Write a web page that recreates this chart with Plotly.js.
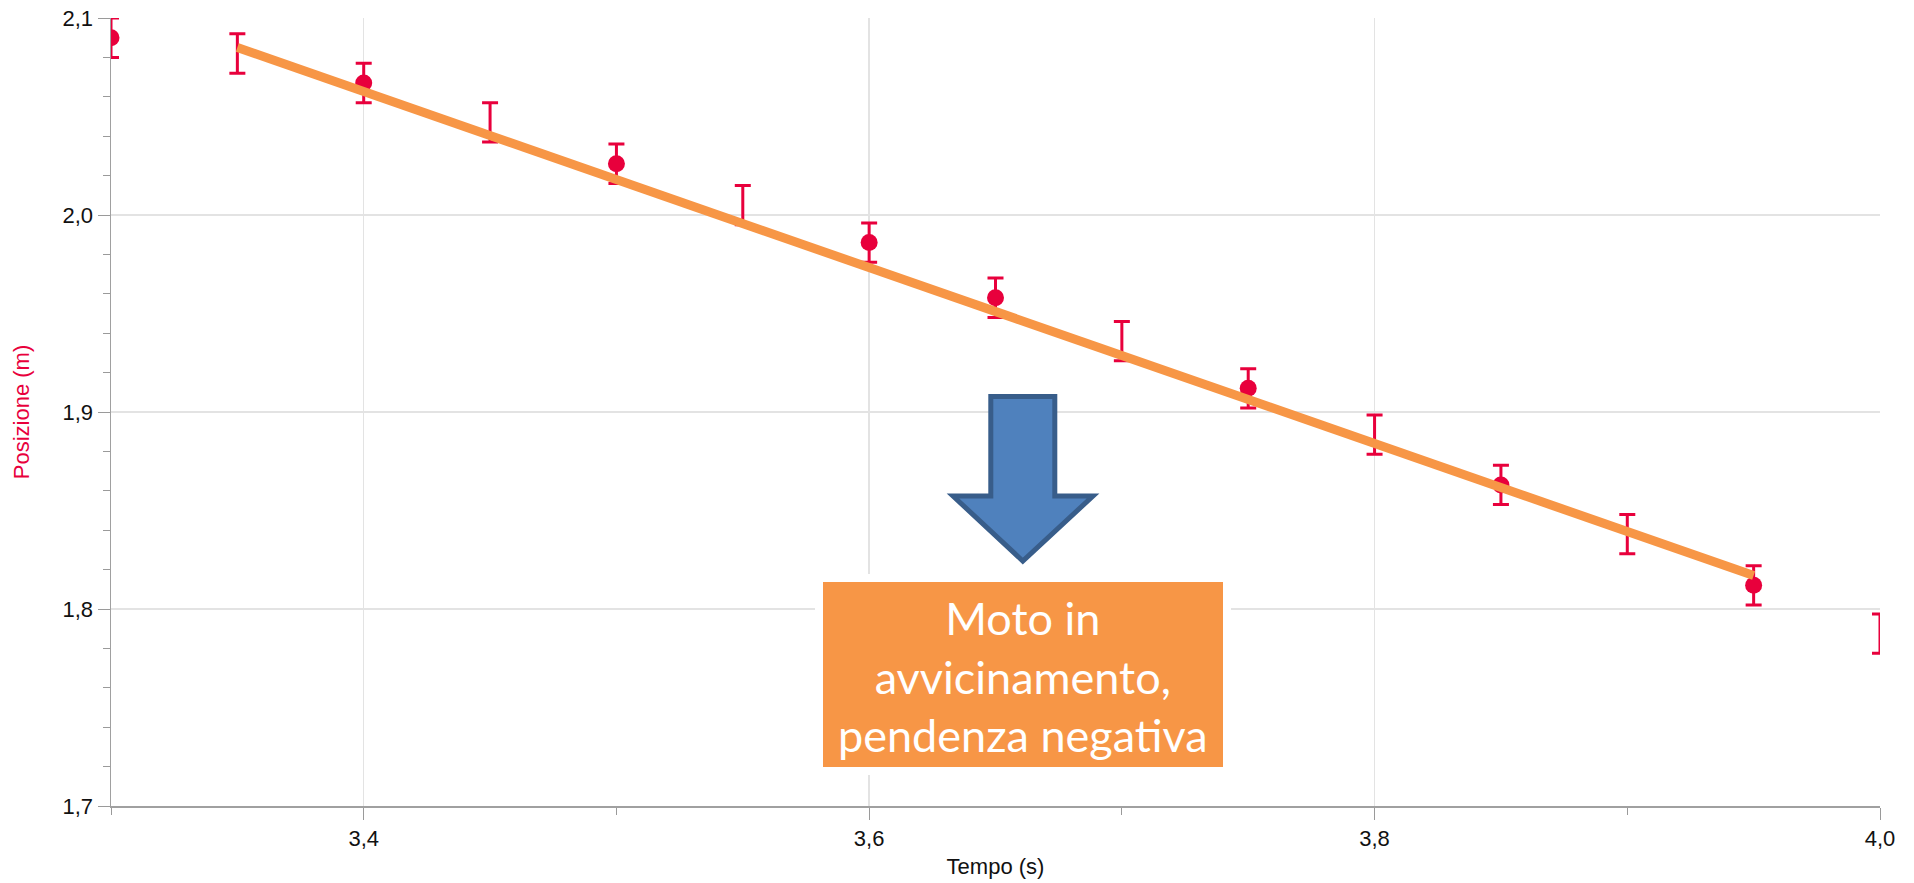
<!DOCTYPE html>
<html>
<head>
<meta charset="utf-8">
<script src="https://cdn.plot.ly/plotly-3.0.1.min.js"></script>
<style>
  html, body { margin: 0; padding: 0; background: #ffffff; }
  #chart { width: 1914px; height: 883px; }
</style>
</head>
<body>
<div id="chart"></div>
<script>
// Measured position of the cart over time (s, m) with its uncertainty
const tempo = [3.30, 3.35, 3.40, 3.45, 3.50, 3.55, 3.60, 3.65, 3.70, 3.75, 3.80, 3.85, 3.90, 3.95, 4.00];
const posizione = [2.090, 2.082, 2.067, 2.047, 2.026, 2.005, 1.986, 1.958, 1.936, 1.912, 1.8885, 1.863, 1.838, 1.812, 1.7875];
const incertezza = [0.01, 0.01, 0.01, 0.01, 0.01, 0.01, 0.01, 0.01, 0.01, 0.01, 0.01, 0.01, 0.01, 0.01, 0.01];
// Samples that are shown with a dot (the others only show their error bar)
const conPunto = [true, false, true, false, true, false, true, true, false, true, false, true, false, true, false];

// Linear fit drawn over the selected interval
const fitTempo = [3.35, 3.95];
const fitPosizione = [2.085, 1.817];

const noteText = 'Moto in<br>avvicinamento,<br>pendenza negativa';

const RED = '#e8003c';
const ORANGE = '#f79646';

function pick(arr, flag) {
  return arr.filter((_, i) => conPunto[i] === flag);
}

// Plot area geometry (pixels) used to place the callout shapes
const W = 1914, H = 883;
const M = { l: 111, r: 34, t: 18, b: 77 };
const PW = W - M.l - M.r, PH = H - M.t - M.b;
const fx = x => (x - M.l) / PW;
const fy = y => 1 - (y - M.t) / PH;

function pathFrom(points) {
  return 'M ' + points.map(p => fx(p[0]).toFixed(5) + ' ' + fy(p[1]).toFixed(5)).join(' L ') + ' Z';
}

const errStyle = { thickness: 3, width: 8, color: RED };

const traces = [
  {
    x: pick(tempo, false), y: pick(posizione, false),
    type: 'scatter', mode: 'markers',
    marker: { size: 17, color: RED, opacity: 0 },
    error_y: Object.assign({ type: 'data', array: pick(incertezza, false), visible: true }, errStyle),
    hoverinfo: 'x+y', showlegend: false
  },
  {
    x: pick(tempo, true), y: pick(posizione, true),
    type: 'scatter', mode: 'markers',
    marker: { size: 17, color: RED },
    error_y: Object.assign({ type: 'data', array: pick(incertezza, true), visible: true }, errStyle),
    hoverinfo: 'x+y', showlegend: false
  },
  {
    x: fitTempo, y: fitPosizione,
    type: 'scatter', mode: 'lines',
    line: { color: ORANGE, width: 9 },
    hoverinfo: 'skip', showlegend: false
  }
];

// Callout: box and downward block arrow
const box = { x0: 823, x1: 1223, y0: 582, y1: 767 };
const pad = 8;
const arrow = [
  [990.8, 396.5], [1054.8, 396.5], [1054.8, 496], [1093, 496],
  [1022.8, 561], [953, 496], [990.8, 496]
];

const axisFont = { family: 'Liberation Sans, Arial, sans-serif', size: 22, color: '#111111' };

const layout = {
  width: W, height: H,
  margin: M,
  paper_bgcolor: '#ffffff',
  plot_bgcolor: '#ffffff',
  separators: ',.',
  showlegend: false,
  xaxis: {
    range: [3.3, 4.0],
    tick0: 0, dtick: 0.2,
    tickformat: '.1f',
    ticks: 'outside', ticklen: 12, tickwidth: 1, tickcolor: '#9a9a9a',
    showline: true, linecolor: '#a0a0a0', linewidth: 1.5,
    showgrid: true, gridcolor: '#e3e3e3', gridwidth: 1.5,
    zeroline: false,
    tickfont: axisFont,
    minor: { dtick: 0.1, tick0: 0, ticks: 'outside', ticklen: 7, tickcolor: '#9a9a9a', showgrid: false },
    title: { text: 'Tempo (s)', font: axisFont, standoff: 8 }
  },
  yaxis: {
    range: [1.7, 2.1],
    tick0: 0, dtick: 0.1,
    tickformat: '.1f',
    ticks: 'outside', ticklen: 12, tickwidth: 1, tickcolor: '#9a9a9a',
    showline: true, linecolor: '#a0a0a0', linewidth: 1.5,
    showgrid: true, gridcolor: '#e3e3e3', gridwidth: 1.5,
    zeroline: false,
    tickfont: axisFont,
    minor: { dtick: 0.02, tick0: 0, ticks: 'outside', ticklen: 7, tickcolor: '#9a9a9a', showgrid: false },
    title: { text: 'Posizione (m)', font: { family: 'Liberation Sans, Arial, sans-serif', size: 22, color: RED }, standoff: 27 }
  },
  shapes: [
    {
      type: 'rect', xref: 'paper', yref: 'paper', layer: 'above',
      x0: fx(box.x0 - pad), x1: fx(box.x1 + pad), y0: fy(box.y1 + pad), y1: fy(box.y0 - pad),
      fillcolor: '#ffffff', line: { width: 0 }
    },
    {
      type: 'rect', xref: 'paper', yref: 'paper', layer: 'above',
      x0: fx(box.x0), x1: fx(box.x1), y0: fy(box.y1), y1: fy(box.y0),
      fillcolor: ORANGE, line: { width: 0 }
    },
    {
      type: 'path', xref: 'paper', yref: 'paper', layer: 'above',
      path: pathFrom(arrow),
      fillcolor: '#4f81bd', line: { color: '#385d8a', width: 5 }
    }
  ],
  annotations: [
    {
      xref: 'paper', yref: 'paper',
      x: fx((box.x0 + box.x1) / 2), y: fy((box.y0 + box.y1) / 2 + 2),
      xanchor: 'center', yanchor: 'middle',
      text: noteText, showarrow: false, align: 'center',
      font: { family: 'Lato, Carlito, Calibri, sans-serif', size: 45, color: '#ffffff' }
    }
  ]
};

Plotly.newPlot('chart', traces, layout, { displayModeBar: false, staticPlot: true });
</script>
</body>
</html>
